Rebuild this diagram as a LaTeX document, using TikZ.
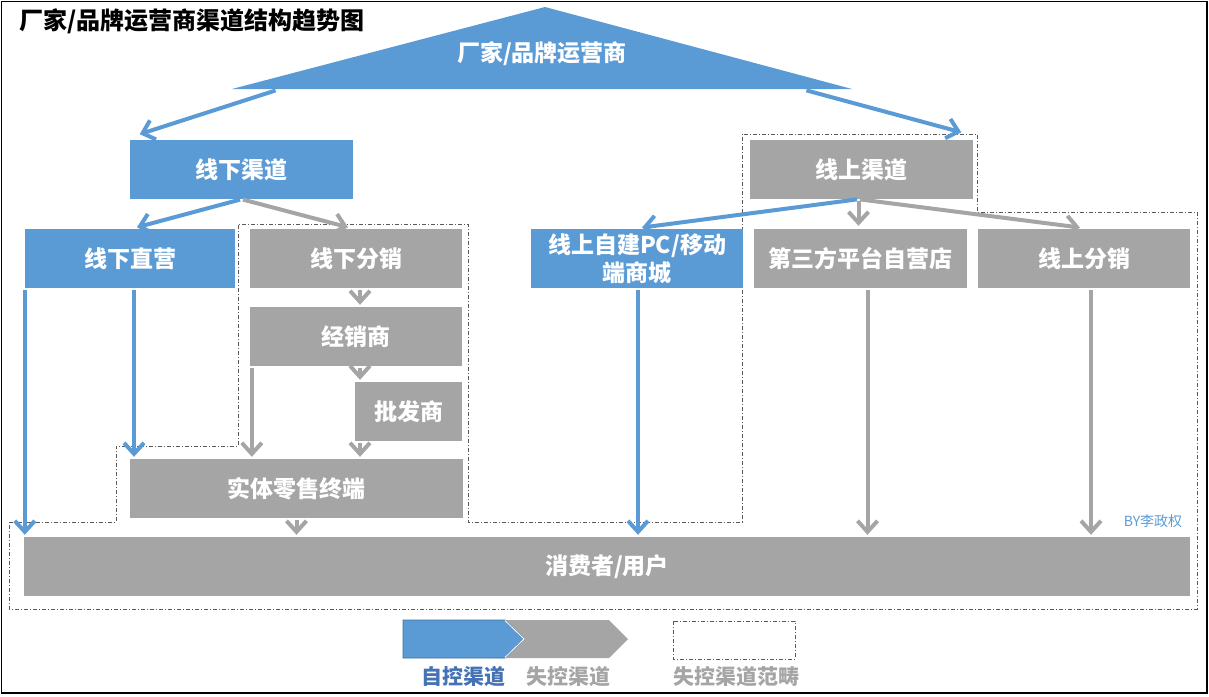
\documentclass[tikz,border=0pt]{standalone}
\usepackage{fontspec}
\setmainfont{Noto Sans CJK SC}
\usetikzlibrary{arrows.meta}
\definecolor{ctrl}{RGB}{91,155,213}
\definecolor{ctrldark}{RGB}{65,113,156}
\definecolor{ctrltxt}{RGB}{68,114,181}
\definecolor{lost}{RGB}{165,165,165}
\definecolor{edge}{RGB}{89,89,89}

\begin{document}
\begin{tikzpicture}[x=1pt,y=-1pt,
    box/.style={rectangle,inner sep=0pt,minimum height=59pt,text=white,align=center,font=\fontsize{23}{28}\selectfont\bfseries},
    cbox/.style={box,fill=ctrl},
    lbox/.style={box,fill=lost},
    carrow/.style={draw=ctrl,line width=4pt,shorten <=1.5pt,shorten >=2pt,-{Straight Barb[length=11pt,width=20pt]}},
    larrow/.style={carrow,draw=lost},
    region/.style={draw=edge,line width=0.8pt,dash pattern=on 4pt off 2pt on 1pt off 2pt},
    legend/.style={font=\fontsize{21}{25}\selectfont\bfseries}]
    \useasboundingbox(0,0)rectangle(1209,696);
    \draw[line width=1.5pt](1.5,1.5)rectangle(1207,693);
    \node[anchor=west,font=\fontsize{24}{29}\selectfont\bfseries](title)at(16,21){厂家/品牌运营商渠道结构趋势图};

    \draw[region](9,522)--(116,522)--(116,446)--(238,446)--(238,224)--(468,224)--(468,522)--(742,522)
        --(742,134)--(977,134)--(977,212)--(1197,212)--(1197,609)--(9,609)--cycle;

    \fill[ctrl](232,89)--(545,7)--(852,89)--cycle;
    \node[box](maker)at(542,54){厂家/品牌运营商};
    \coordinate(mkL)at(277,90);
    \coordinate(mkR)at(805,90);

    \node[cbox,minimum width=223pt](xxqd)at(241.5,169.5){线下渠道};
    \node[lbox,minimum width=223pt](xsqd)at(861.5,169.5){线上渠道};
    \node[cbox,minimum width=210pt](xxzy)at(130,258.5){线下直营};
    \node[lbox,minimum width=212pt](xxfx)at(356,258.5){线下分销};
    \node[lbox,minimum width=212pt](jxs)at(356,336.5){经销商};
    \node[lbox,minimum width=107pt](pfs)at(408.5,411.5){批发商};
    \node[lbox,minimum width=333pt](stls)at(296.5,488.5){实体零售终端};
    \node[cbox,minimum width=212pt](xszj)at(637,258.5){线上自建PC/移动\\端商城};
    \node[lbox,minimum width=213pt](dsf)at(860.5,258.5){第三方平台自营店};
    \node[lbox,minimum width=212pt](xsfx)at(1084,258.5){线上分销};
    \node[lbox,minimum width=1166pt](user)at(607,566.5){消费者/用户};
    \node[text=ctrl,font=\fontsize{14}{16}\selectfont](by)at(1153,521){BY李政权};

    \draw[carrow](mkL)--([xshift=8pt,yshift=5pt]xxqd.north west);
    \draw[carrow](mkR)--([xshift=-10pt,yshift=7pt]xsqd.north east);
    \draw[carrow](xxqd.south)--([xshift=5pt,yshift=1pt]xxzy.north);
    \draw[larrow](xxqd.south)--([xshift=-6pt,yshift=1pt]xxfx.north);
    \draw[carrow]([xshift=-3pt]xsqd.south)--([xshift=3pt,yshift=1pt]xszj.north);
    \draw[larrow]([xshift=-3pt]xsqd.south)--([xshift=-2pt,yshift=1pt]dsf.north);
    \draw[larrow]([xshift=-3pt]xsqd.south)--([xshift=-2pt,yshift=1pt]xsfx.north);

    \coordinate(fx)at(360,0);
    \draw[carrow](xxzy.south west)--(xxzy.south west|-user.north);
    \draw[carrow]([xshift=4pt]xxzy.south)--([xshift=4pt]xxzy.south|-stls.north);
    \draw[larrow](fx|-xxfx.south)--(fx|-jxs.north);
    \draw[larrow](fx|-jxs.south)--(fx|-pfs.north);
    \draw[larrow](fx|-pfs.south)--(fx|-stls.north);
    \draw[larrow]([xshift=2pt]jxs.south west)--([xshift=2pt]jxs.south west|-stls.north);
    \draw[larrow](stls.south)--(stls.south|-user.north);
    \draw[carrow]([xshift=1pt]xszj.south)--([xshift=1pt]xszj.south|-user.north);
    \draw[larrow]([xshift=7pt]dsf.south)--([xshift=7pt]dsf.south|-user.north);
    \draw[larrow]([xshift=7pt]xsfx.south)--([xshift=7pt]xsfx.south|-user.north);

    \fill[lost](490,620)--(609,620)--(628,639)--(609,658)--(490,658)--cycle;
    \draw[fill=ctrl,draw=ctrldark,line width=0.8pt](403,620)--(505,620)--(524,639)--(505,658)--(403,658)--cycle;
    \draw[white,line width=0.8pt](505,620.5)--(524,639)--(505,657.5);
    \draw[region](673,621)rectangle(795,659);
    \node[legend,text=ctrltxt](lgc)at(463,677){自控渠道};
    \node[legend,text=lost](lgl)at(568,677){失控渠道};
    \node[legend,text=lost](lgr)at(736,677){失控渠道范畴};
\end{tikzpicture}
\end{document}
